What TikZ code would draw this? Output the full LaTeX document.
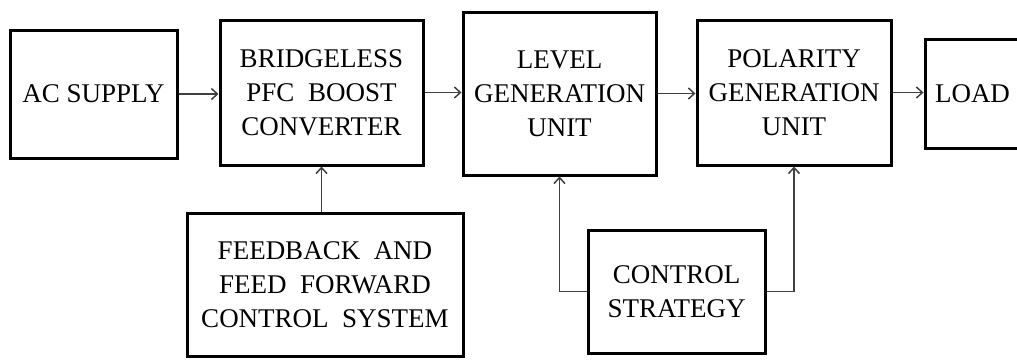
\documentclass[tikz,border=0pt]{standalone}
\usepackage{fontspec}
\setmainfont{Liberation Serif}
\usetikzlibrary{arrows.meta}

\tikzset{
  blk/.style={draw, line width=3pt, align=center, inner sep=0pt,
    font=\fontsize{27}{34}\selectfont},
  arr/.style={-{Straight Barb[length=6pt,width=11pt,line width=1.5pt]},
    line width=1.8pt, draw=black!75}
}

\begin{document}
\begin{tikzpicture}[x=1pt,y=-1pt]
\useasboundingbox (0,0) rectangle (1017,360);
% Main chain
\node[blk, minimum width=167pt, minimum height=128pt] (ac) at (93.5,94) {AC SUPPLY};
\node[blk, minimum width=203pt, minimum height=145pt] (br) at (321.5,92.5) {BRIDGELESS\\PFC\ \ BOOST\\CONVERTER};
\node[blk, minimum width=193pt, minimum height=163pt] (lv) at (559.5,93.5) {LEVEL\\GENERATION\\UNIT};
\node[blk, minimum width=194pt, minimum height=145pt] (pl) at (794,92.5) {POLARITY\\GENERATION\\UNIT};
\node[blk, text width=100pt, align=left, inner xsep=10pt, minimum height=109pt] (load) at (985,93.5) {LOAD};
% Control blocks
\node[blk, minimum width=276pt, minimum height=143pt] (fb) at (325,284.5) {FEEDBACK\ \ AND\\FEED\ \ FORWARD\\CONTROL\ \ SYSTEM};
\node[blk, minimum width=177pt, minimum height=123pt] (cs) at (676.5,291.5) {CONTROL\\STRATEGY};
% Connectors
\draw[arr] (ac.east) -- (ac.east -| br.west);
\draw[arr] (br.east) -- (br.east -| lv.west);
\draw[arr] (lv.east) -- (lv.east -| pl.west);
\draw[arr] (pl.east) -- (pl.east -| load.west);
\draw[arr] (br.south |- fb.north) -- (br.south);
\draw[arr] (cs.west) -| (lv.south);
\draw[arr] (cs.east) -| (pl.south);
\end{tikzpicture}
\end{document}
